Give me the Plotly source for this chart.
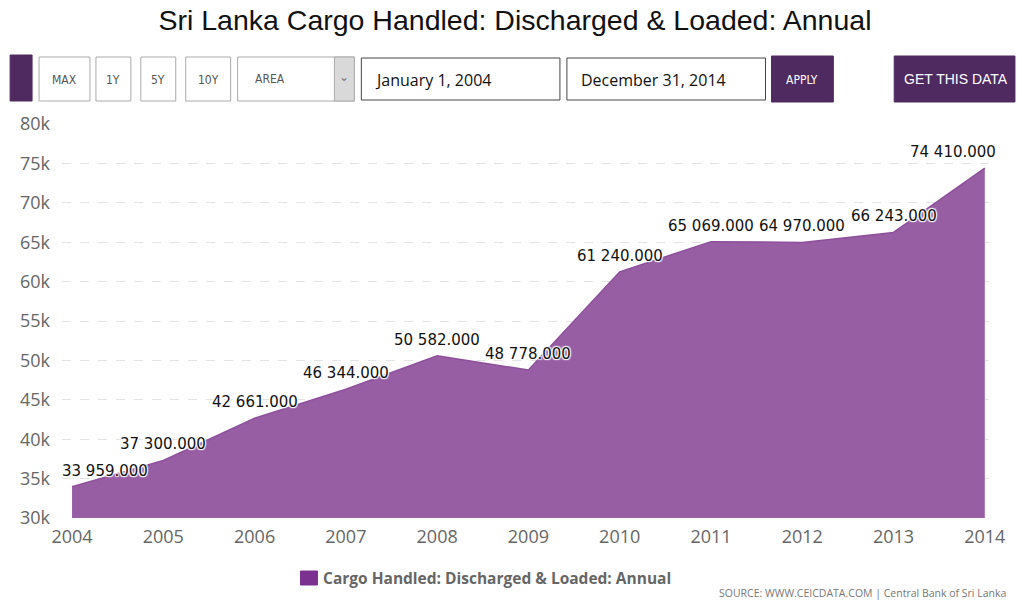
import plotly.graph_objects as go

years = [2004, 2005, 2006, 2007, 2008, 2009, 2010, 2011, 2012, 2013, 2014]
values = [33959, 37300, 42661, 46344, 50582, 48778, 61240, 65069, 64970, 66243, 74410]
labels = ["33 959.000", "37 300.000", "42 661.000", "46 344.000", "50 582.000",
          "48 778.000", "61 240.000", "65 069.000", "64 970.000", "66 243.000", "74 410.000"]
y_ticks = [30000, 35000, 40000, 45000, 50000, 55000, 60000, 65000, 70000, 75000, 80000]
y_tick_text = ["30k", "35k", "40k", "45k", "50k", "55k", "60k", "65k", "70k", "75k", "80k"]
title = "Sri Lanka Cargo Handled: Discharged & Loaded: Annual"
series_name = "Cargo Handled: Discharged & Loaded: Annual"
source = "SOURCE: WWW.CEICDATA.COM | Central Bank of Sri Lanka"

W_PX, H_PX = 1017, 602
L, R, T, B = 62, 22, 124, 84
PW, PH = W_PX - L - R, H_PX - T - B

def px(x):
    return (x - L) / PW

def py(y):
    return 1 - (y - T) / PH

PURPLE = "#4f2a60"
FILL = "#985ea4"

fig = go.Figure()
fig.add_trace(go.Scatter(
    x=years, y=values, mode="lines", fill="tozeroy",
    fillcolor=FILL, line=dict(color="#8e509c", width=1.5),
    showlegend=False, hoverinfo="x+y",
))

shadow = "1px 1px 1px white, -1px -1px 1px white, 1px -1px 1px white, -1px 1px 1px white"
for i, (x, v, lab) in enumerate(zip(years, values, labels)):
    xs = 0
    if i == 0:
        xs = 33
    elif i == len(years) - 1:
        xs = -32
    fig.add_annotation(x=x, y=v, text=lab, showarrow=False, xref="x", yref="y",
                       yshift=16, xshift=xs,
                       font=dict(family="DejaVu Sans", size=15, color="#111", shadow=shadow))

shapes = []
anns = []

def box(x0, y0, x1, y1, fill="white", line="#999"):
    shapes.append(dict(type="rect", xref="paper", yref="paper",
                       x0=px(x0), x1=px(x1), y0=py(y1), y1=py(y0),
                       fillcolor=fill, line=dict(color=line, width=1), layer="above"))

def text(xc, yc, s, size=13, color="#555", family="DejaVu Sans", xanchor="center"):
    anns.append(dict(x=px(xc), y=py(yc), xref="paper", yref="paper", text=s,
                     showarrow=False, xanchor=xanchor, yanchor="middle",
                     font=dict(size=size, color=color, family=family)))

# header controls
box(10, 55, 32, 101, fill=PURPLE, line=PURPLE)
for (a, b2, s) in [(39, 90, "MAX"), (96, 131, "1Y"), (141, 176, "5Y"), (186, 231, "10Y")]:
    box(a, 57, b2, 101, line="#aaa")
    text((a + b2) / 2, 80, s, size=12, color="#555", family="DejaVu Sans Condensed")
box(238, 57, 355, 101, line="#aaa")
box(335, 57, 355, 101, fill="#d9d9d9", line="#aaa")
text(270, 79, "AREA", size=12, color="#555", family="DejaVu Sans Condensed")
text(345, 77, "⌄", size=12, color="#777")
box(362, 58, 561, 100, line="#444")
text(374, 80, "January 1, 2004", size=16, color="#111", family="Open Sans", xanchor="left")
box(568, 58, 767, 100, line="#444")
text(580, 80, "December 31, 2014", size=16, color="#111", family="Open Sans", xanchor="left")
box(773, 56, 835, 102, fill=PURPLE, line=PURPLE)
text(804, 80, "APPLY", size=12, color="white", family="DejaVu Sans Condensed")
box(896, 56, 1017, 102, fill=PURPLE, line=PURPLE)
text(958, 79, "GET THIS DATA", size=14, color="white", family="Liberation Sans")

# legend
box(301, 571, 318, 585, fill="#7b3190", line="#7b3190")
text(322, 578, "<b>" + series_name + "</b>", size=15.5, color="#666", family="Open Sans", xanchor="left")
# source
text(1010, 593, source, size=10.5, color="#777", family="Open Sans", xanchor="right")

fig.update_layout(
    width=W_PX, height=H_PX,
    margin=dict(l=L, r=R, t=T, b=B),
    paper_bgcolor="white", plot_bgcolor="white",
    title=dict(text=title, x=515 / W_PX, xanchor="center", y=1 - 20 / H_PX, yanchor="middle",
               font=dict(family="Liberation Sans", size=28.5, color="#111")),
    xaxis=dict(range=[2003.89, 2014.09], tickvals=years, ticktext=[str(y) for y in years],
               showgrid=False, zeroline=False, showline=False, ticks="", ticklabelstandoff=6,
               tickfont=dict(family="Open Sans", size=18, color="#666"), fixedrange=True),
    yaxis=dict(range=[30000, 80000], tickvals=y_ticks, ticktext=y_tick_text,
               showgrid=True, gridcolor="#e3e3e3", griddash="dash", gridwidth=1,
               zeroline=False, showline=False, ticks="", ticklabelstandoff=11,
               tickfont=dict(family="Open Sans", size=18, color="#666"), fixedrange=True),
    shapes=shapes, annotations=list(fig.layout.annotations) + anns,
)

fig.write_html("out.html")
